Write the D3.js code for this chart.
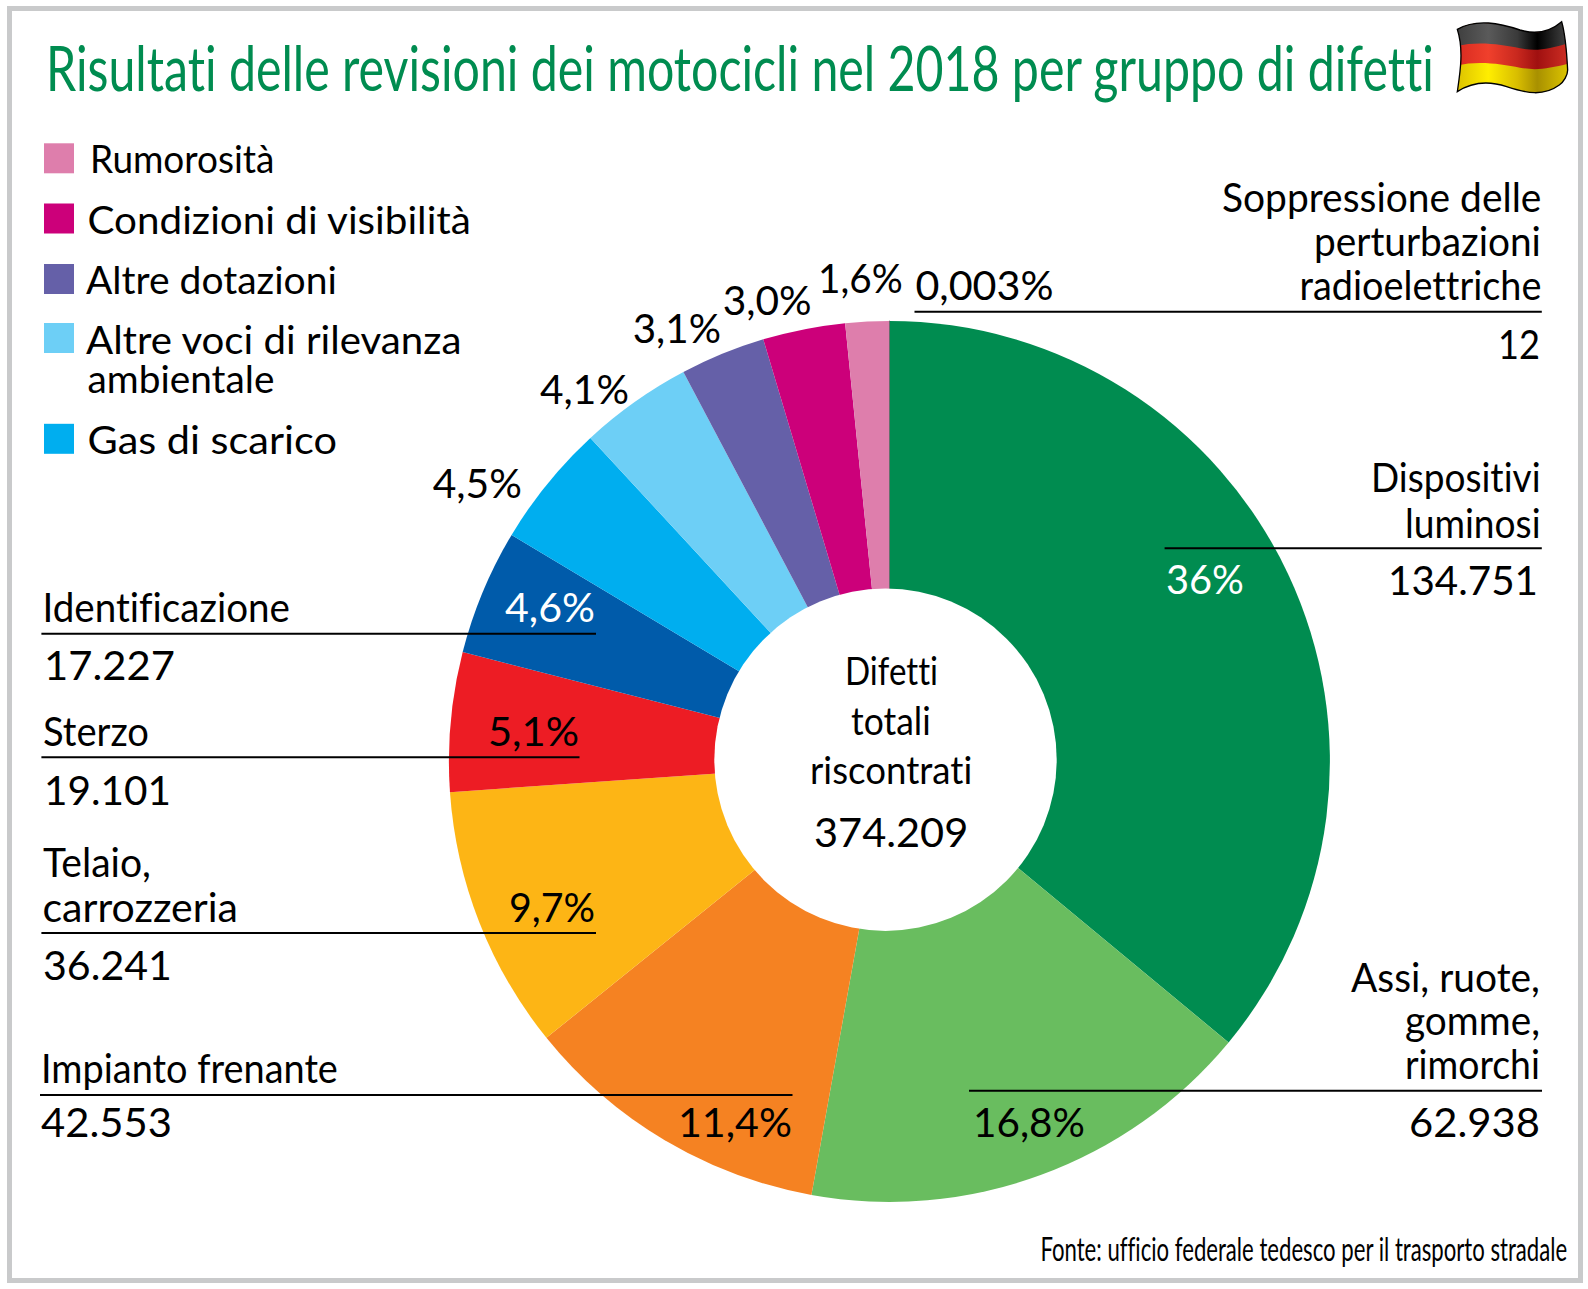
<!DOCTYPE html>
<html lang="it">
<head>
<meta charset="utf-8">
<title>Risultati delle revisioni dei motocicli nel 2018</title>
<script src="https://cdn.jsdelivr.net/npm/d3@7"></script>
<style>
  html, body { margin: 0; padding: 0; background: #fff; }
  svg { display: block; }
  text { font-family: Lato, "Open Sans", sans-serif; font-weight: 400; fill: #000; font-variant-ligatures: none; }
</style>
</head>
<body>
<svg id="chart" width="1588" height="1289" viewBox="0 0 1588 1289"></svg>
<script>
// clockwise from 12 o'clock
const categories = [
  "Soppressione delle perturbazioni radioelettriche",
  "Dispositivi luminosi",
  "Assi, ruote, gomme, rimorchi",
  "Impianto frenante",
  "Telaio, carrozzeria",
  "Sterzo",
  "Identificazione",
  "Gas di scarico",
  "Altre voci di rilevanza ambientale",
  "Altre dotazioni",
  "Condizioni di visibilità",
  "Rumorosità",
];
const values = [12, 134751, 62938, 42553, 36241, 19101, 17227, 16950, 15450, 11690, 11300, 5996];
const percentLabels = ["0,003%", "36%", "16,8%", "11,4%", "9,7%", "5,1%", "4,6%", "4,5%", "4,1%", "3,1%", "3,0%", "1,6%"];
const colors = ["#3a3a3c", "#008c50", "#69bd5f", "#f58222", "#fdb515", "#ed1c24", "#005baa", "#00aeef", "#6dcff6", "#6560a8", "#cc007a", "#de7eac"];

const title = "Risultati delle revisioni dei motocicli nel 2018 per gruppo di difetti";
const source = "Fonte: ufficio federale tedesco per il trasporto stradale";
const centerLines = ["Difetti", "totali", "riscontrati"];

const fmt = d3.formatLocale({ decimal: ",", thousands: ".", grouping: [3], currency: ["", ""] }).format(",d");

const svg = d3.select("#chart");

// the original face is a narrow Futura, so each text is squeezed to its measured width
function label(g, str, x1, x2, y, size, fill) {
  const t = g.append("text")
    .attr("font-size", size)
    .style("fill", fill || null)
    .text(str);
  const sx = (x2 - x1) / t.node().getComputedTextLength();
  return t.attr("transform", `translate(${x1},${y}) scale(${sx},1)`);
}

// frame
svg.append("rect")
  .attr("x", 9.5).attr("y", 8.5)
  .attr("width", 1571).attr("height", 1272)
  .attr("fill", "#fff")
  .attr("stroke", "#c9cacb")
  .attr("stroke-width", 5);

label(svg, title, 46, 1434, 90.5, 61, "#008c50");
drawFlag();

// donut
const pie = d3.pie().sort(null).value((d) => d);
const arc = d3.arc().innerRadius(0).outerRadius(440.5);

const pieG = svg.append("g").attr("transform", "translate(889.4,761.4)");
pieG.selectAll("path")
  .data(pie(values))
  .join("path")
  .attr("d", arc)
  .attr("fill", (d, i) => colors[i])
  .attr("stroke", (d, i) => (i === 0 ? colors[0] : "none"))
  .attr("stroke-width", 1);

// the hole sits a little off the centre of the pie in the original
svg.append("circle")
  .attr("cx", 885.5).attr("cy", 759.7).attr("r", 171.2)
  .attr("fill", "#fff");

// centre
const centerBoxes = [[845, 938, 685], [851, 930.7, 735], [810, 972.3, 784]];
const centerG = svg.append("g");
centerLines.forEach((s, i) => label(centerG, s, centerBoxes[i][0], centerBoxes[i][1], centerBoxes[i][2], 38));
label(centerG, fmt(d3.sum(values)), 814, 968.3, 847, 40);

// legend
const legendIdx = [11, 10, 9, 8, 7];
const legendTop = [143.3, 203.5, 264, 323, 423.8];
const legendLines = {
  11: [["Rumorosità", 90, 274.5, 173]],
  10: [["Condizioni di visibilità", 87.5, 471, 234]],
  9: [["Altre dotazioni", 86, 337, 294]],
  8: [["Altre voci di rilevanza", 86, 461.5, 354], ["ambientale", 87.5, 274.5, 393]],
  7: [["Gas di scarico", 87.5, 337, 453.5]],
};
const legendG = svg.append("g");
legendIdx.forEach((idx, i) => {
  legendG.append("rect")
    .attr("x", 44).attr("y", legendTop[i])
    .attr("width", 30).attr("height", 30)
    .attr("fill", colors[idx]);
  legendLines[idx].forEach((l) => label(legendG, l[0], l[1], l[2], l[3], 38));
});

// percent only labels around the top left of the donut
const outerPct = { 7: [432.7, 522, 498], 8: [540, 629, 404], 9: [632.7, 721, 342.5], 10: [722.7, 811.7, 315], 11: [818, 902.7, 292.5] };
const pctG = svg.append("g");
Object.keys(outerPct).forEach((k) => {
  const b = outerPct[k];
  label(pctG, percentLabels[k], b[0], b[1], b[2], 40);
});

// callouts: rule, name lines above it, value below it, percent at the inner end
const callouts = [
  { i: 0, rule: [914.5, 1541.8, 311.7], lines: [["Soppressione delle", 1222, 1541.5, 212], ["perturbazioni", 1314, 1541, 256], ["radioelettriche", 1299.5, 1541.5, 300]],
    value: [1498, 1540, 358.5], pct: [915.4, 1053.6, 300] },
  { i: 1, rule: [1164.6, 1541.8, 548.3], lines: [["Dispositivi", 1371, 1540.6, 492], ["luminosi", 1405, 1540.6, 537.5]],
    value: [1388, 1538, 595], pct: [1166, 1244, 594] },
  { i: 2, rule: [969, 1542, 1090.7], lines: [["Assi, ruote,", 1351, 1540, 991.5], ["gomme,", 1405, 1540, 1035], ["rimorchi", 1405, 1540, 1079]],
    value: [1409, 1540, 1137], pct: [973, 1085, 1137] },
  { i: 3, rule: [40, 792.5, 1095], lines: [["Impianto frenante", 41, 338, 1083]],
    value: [41, 172, 1136.5], pct: [678, 792, 1136.5] },
  { i: 4, rule: [41.4, 596, 933], lines: [["Telaio,", 43, 151, 877], ["carrozzeria", 42.5, 238, 922]],
    value: [43, 172, 980], pct: [509, 595, 922] },
  { i: 5, rule: [41.4, 579.5, 757.3], lines: [["Sterzo", 43, 149, 746]],
    value: [44, 171, 804.5], pct: [488, 579, 746] },
  { i: 6, rule: [41.4, 596, 633.7], lines: [["Identificazione", 42.5, 290, 622]],
    value: [44, 175, 680], pct: [505, 595, 621.5] },
];
const whitePct = [1, 6];
const calloutG = svg.append("g");
callouts.forEach((c) => {
  calloutG.append("line")
    .attr("x1", c.rule[0]).attr("x2", c.rule[1])
    .attr("y1", c.rule[2]).attr("y2", c.rule[2])
    .attr("stroke", "#000")
    .attr("stroke-width", 2);
  c.lines.forEach((l) => label(calloutG, l[0], l[1], l[2], l[3], 40));
  label(calloutG, fmt(values[c.i]), c.value[0], c.value[1], c.value[2], 40);
  label(calloutG, percentLabels[c.i], c.pct[0], c.pct[1], c.pct[2], 40, whitePct.includes(c.i) ? "#fff" : null);
});

label(svg, source, 1040.4, 1567.4, 1261, 33);

function drawFlag() {
  const defs = svg.append("defs");
  const grad = (id, stops) => {
    const g = defs.append("linearGradient").attr("id", id);
    stops.forEach((s) => g.append("stop").attr("offset", s[0]).attr("stop-color", s[1]));
  };
  grad("flagBlack", [[0, "#3c3c3c"], [0.3, "#5a5a5a"], [0.55, "#3a3a3a"], [0.72, "#000"], [1, "#4a4a4a"]]);
  grad("flagRed", [[0, "#d5281f"], [0.3, "#f0402c"], [0.55, "#c8281e"], [0.72, "#a01010"], [1, "#d03025"]]);
  grad("flagYellow", [[0, "#d8bd00"], [0.3, "#ffee00"], [0.55, "#d8bd00"], [0.72, "#a89000"], [1, "#e0c800"]]);

  const outline = "M172,88 C230,55 300,70 360,90 C410,105 450,95 485,65 C495,100 500,150 503,210 C503,225 492,245 478,255 C430,290 380,280 320,260 C260,240 210,250 172,275 C180,220 192,150 172,88 Z";
  defs.append("clipPath").attr("id", "flagClip").append("path").attr("d", outline);

  const g = svg.append("g").attr("transform", "translate(1400,0) scale(0.3333)");
  const inner = g.append("g").attr("clip-path", "url(#flagClip)");
  inner.append("rect").attr("x", 160).attr("y", 50).attr("width", 350).attr("height", 240).attr("fill", "url(#flagYellow)");
  inner.append("path").attr("d", "M160,50 L160,200 C220,180 300,190 360,203 C410,213 450,205 510,190 L510,50 Z").attr("fill", "url(#flagRed)");
  inner.append("path").attr("d", "M160,50 L160,142 C220,122 300,132 360,145 C410,155 450,147 510,128 L510,50 Z").attr("fill", "url(#flagBlack)");
  g.append("path").attr("d", outline).attr("fill", "none").attr("stroke", "#000").attr("stroke-width", 4);
}
</script>
</body>
</html>
